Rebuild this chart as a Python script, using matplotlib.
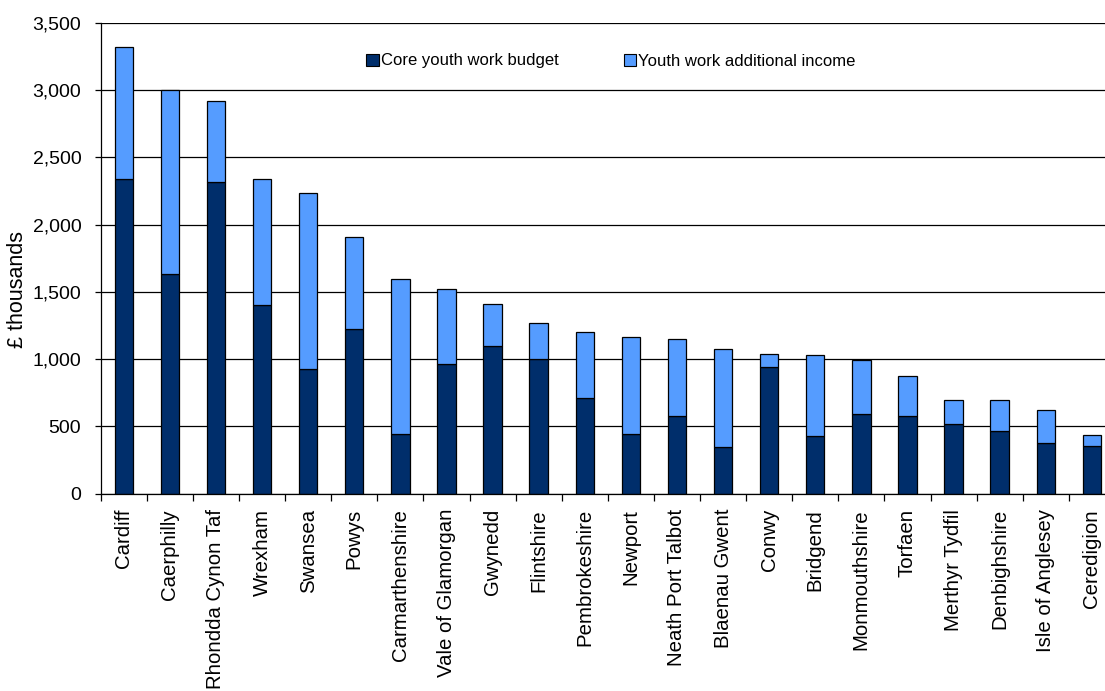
import matplotlib
matplotlib.use("Agg")
import matplotlib.pyplot as plt
import numpy as np
from matplotlib.ticker import FuncFormatter, FixedLocator
from matplotlib.patches import Patch

plt.rcParams['font.family'] = ['Liberation Sans', 'DejaVu Sans']

areas = ["Cardiff", "Caerphilly", "Rhondda Cynon Taf", "Wrexham", "Swansea", "Powys",
         "Carmarthenshire", "Vale of Glamorgan", "Gwynedd", "Flintshire", "Pembrokeshire",
         "Newport", "Neath Port Talbot", "Blaenau Gwent", "Conwy", "Bridgend",
         "Monmouthshire", "Torfaen", "Merthyr Tydfil", "Denbighshire", "Isle of Anglesey",
         "Ceredigion"]
core = [2340, 1630, 2315, 1402, 923, 1224, 440, 967, 1096, 1002, 712, 440, 574, 344, 942,
        428, 594, 574, 519, 467, 376, 352]
total = [3321, 2998, 2915, 2335, 2233, 1909, 1595, 1521, 1410, 1271, 1200, 1168, 1148, 1073,
         1041, 1029, 990, 875, 697, 697, 623, 438]
additional = [t - c for t, c in zip(total, core)]

legend_labels = ["Core youth work budget", "Youth work additional income"]
y_ticks = [0, 500, 1000, 1500, 2000, 2500, 3000, 3500]

c_core = '#002E6B'
c_add = '#559CFF'

fig = plt.figure(figsize=(11.05, 6.91), dpi=100)
ax = fig.add_axes([100.7 / 1105, 1 - 493.7 / 691, 1014.2 / 1105, 471 / 691])

x = np.arange(len(areas))
w = 0.40
ax.bar(x, core, width=w, color=c_core, edgecolor='black', linewidth=0.9, zorder=3)
ax.bar(x, additional, width=w, bottom=core, color=c_add, edgecolor='black', linewidth=0.9, zorder=3)

ax.set_xlim(-0.5, len(areas) - 0.5)
ax.set_ylim(0, 3500)
ax.yaxis.set_major_locator(FixedLocator(y_ticks))
ax.yaxis.set_major_formatter(FuncFormatter(lambda v, p: f"{int(v):,}"))
ax.grid(axis='y', color='black', linewidth=0.9, zorder=0)
ax.set_axisbelow(True)

ax.set_xticks(x)
ax.set_xticklabels(areas, rotation=90, ha='center', va='top')
ax.xaxis.set_minor_locator(FixedLocator(np.arange(-0.5, len(areas), 1.0)))
ax.tick_params(axis='x', which='major', length=0, pad=11, labelsize=14.7)
ax.tick_params(axis='x', which='minor', length=5, width=0.9, color='black', direction='out')
ax.tick_params(axis='y', which='major', length=4, width=0.9, pad=10, labelsize=14, direction='out')

for s in ['top', 'right']:
    ax.spines[s].set_visible(False)
for s in ['left', 'bottom']:
    ax.spines[s].set_color('black')
    ax.spines[s].set_linewidth(0.9)
    ax.spines[s].set_zorder(4)

fig.text(18 / 1105, 1 - 290 / 691, "£ thousands", rotation=90, ha='center', va='center',
         fontsize=15.5)

handles = [Patch(facecolor=c_core, edgecolor='black', linewidth=0.8),
           Patch(facecolor=c_add, edgecolor='black', linewidth=0.8)]
fig.legend(handles, legend_labels, loc='center', bbox_to_anchor=(611 / 1105, 1 - 61 / 691),
           ncol=2, frameon=False, fontsize=12, handlelength=0.75, handleheight=0.75,
           handletextpad=0.12, columnspacing=3.9, borderpad=0)

fig.savefig("out.png", dpi=100)
